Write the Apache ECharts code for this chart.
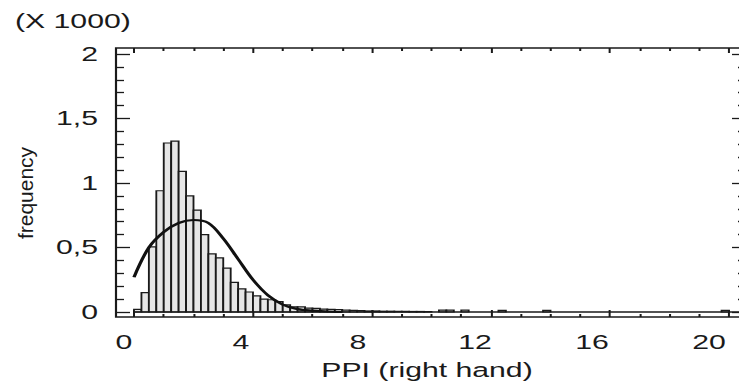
<!DOCTYPE html>
<html>
<head>
<meta charset="utf-8">
<script src="https://cdn.jsdelivr.net/npm/echarts@6/dist/echarts.min.js"></script>
<style>
  html, body { margin: 0; padding: 0; background: #fff; overflow: hidden; }
  #wrap { width: 739px; height: 386px; overflow: hidden; position: relative; }
  #chart { width: 477px; height: 386px; transform-origin: 0 0; position: absolute; left: 0; top: 0; }
</style>
</head>
<body>
<div id="wrap"><div id="chart"></div></div>
<script>
// ---------------- data ----------------
// histogram bins: left edge of each bin (PPI), bin width, frequency (x 1000)
const binWidth = 0.25;
const binLeft = [0, 0.25, 0.5, 0.75, 1, 1.25, 1.5, 1.75, 2, 2.25, 2.5, 2.75, 3, 3.25, 3.5, 3.75,
  4, 4.25, 4.5, 4.75, 5, 5.25, 5.5, 5.75, 6, 6.25, 6.5, 6.75, 7, 7.25, 7.5, 7.75,
  8, 8.25, 8.5, 8.75, 9, 9.25, 9.5, 9.75, 10.25, 10.5, 11, 12.25, 13.75, 19.75];
const binFreq = [0.02, 0.15, 0.505, 0.94, 1.31, 1.325, 1.09, 0.90, 0.79, 0.60, 0.45, 0.42, 0.34, 0.23, 0.18, 0.155,
  0.125, 0.10, 0.095, 0.08, 0.055, 0.04, 0.04, 0.03, 0.028, 0.022, 0.02, 0.018, 0.015, 0.012, 0.01, 0.008,
  0.008, 0.006, 0.006, 0.005, 0.005, 0.004, 0.004, 0.003, 0.014, 0.014, 0.014, 0.012, 0.012, 0.012];
// fitted curve
const curveX = [0, 0.5, 1.0, 1.5, 2.0, 2.5, 3.0, 3.5, 4.0, 4.5, 5.0, 5.5, 6.0, 6.5, 7.0];
const curveY = [0.27, 0.50, 0.62, 0.69, 0.713, 0.69, 0.57, 0.41, 0.25, 0.13, 0.058, 0.022, 0.01, 0.004, 0.0];
// axes
const xTicks = [0, 4, 8, 12, 16, 20];
const yTickLabels = ['0', '0,5', '1', '1,5', '2'];
const xTitle = 'PPI (right hand)';
const yTitle = 'frequency';
const yScaleNote = '(X 1000)';

// ---------------- layout ----------------
const W = 477, H = 386;
const S = 739 / W;            // horizontal stretch of the original figure
const u = px => px / S;
const el = document.getElementById('chart');
el.style.transform = 'scaleX(' + S + ')';
const chart = echarts.init(el, null, { renderer: 'svg', width: W, height: H });

const FONT = 'Liberation Sans, Arial, Helvetica, sans-serif';
const INK = '#1a1a1a';
const F = { l: 116, r: 746, t: 48, b: 317 };   // outer frame (reference px)
const D = { l: 134, r: 729, t: 54, b: 312 };   // x 0..20, y 0..2
const pxPerX = (D.r - D.l) / 20, pxPerY = (D.b - D.t) / 2;
const fxMin = (F.l - D.l) / pxPerX, fxMax = (F.r - D.l) / pxPerX;
const fyMin = (D.b - F.b) / pxPerY, fyMax = (D.b - F.t) / pxPerY;

const bars = binLeft.map((x, i) => [x, x + binWidth, binFreq[i]]);
const curve = curveX.map((x, i) => [x, curveY[i]]);

const tickStyle = { color: INK, width: 1.3 };
const noLine = { show: false, onZero: false };

chart.setOption({
  animation: false,
  backgroundColor: '#fff',
  grid: [
    { left: u(F.l), right: W - u(F.r), top: F.t, bottom: H - F.b, show: true,
      borderColor: INK, borderWidth: 1.4, backgroundColor: 'transparent', containLabel: false, outerBoundsMode: 'none' },
    { left: u(D.l), right: W - u(D.r), top: D.t, bottom: H - D.b, containLabel: false, outerBoundsMode: 'none' },
    { left: u(124), right: W - u(709), top: D.t, bottom: H - F.b, containLabel: false, outerBoundsMode: 'none' }
  ],
  xAxis: [
    { gridIndex: 0, type: 'value', min: fxMin, max: fxMax, show: false, axisLine: noLine },
    { gridIndex: 1, type: 'value', min: 0, max: 20, interval: 4, position: 'bottom', offset: F.b - D.b,
      axisLine: noLine, splitLine: { show: false }, axisLabel: { show: false },
      axisTick: { inside: true, length: 7, lineStyle: tickStyle },
      minorTick: { show: true, splitNumber: 4, length: 3, lineStyle: tickStyle } },
    { gridIndex: 1, type: 'value', min: 0, max: 20, interval: 4, position: 'top', offset: D.t - F.t,
      axisLine: noLine, splitLine: { show: false }, axisLabel: { show: false },
      axisTick: { inside: true, length: 5, lineStyle: tickStyle },
      minorTick: { show: true, splitNumber: 4, length: 3, lineStyle: tickStyle } },
    { gridIndex: 2, type: 'value', min: 0, max: 20, interval: 4, position: 'bottom',
      axisLine: noLine, axisTick: { show: false }, splitLine: { show: false },
      axisLabel: { show: true, margin: 15, color: INK, fontFamily: FONT, fontSize: 19.5, customValues: xTicks } }
  ],
  yAxis: [
    { gridIndex: 0, type: 'value', min: fyMin, max: fyMax, show: false, axisLine: noLine },
    { gridIndex: 1, type: 'value', min: 0, max: 2, interval: 0.5, position: 'left', offset: u(D.l - F.l),
      axisLine: noLine, splitLine: { show: false },
      axisTick: { inside: true, length: u(14), lineStyle: tickStyle },
      minorTick: { show: true, splitNumber: 5, length: u(8), lineStyle: tickStyle },
      axisLabel: { show: true, margin: u(18), color: INK, fontFamily: FONT, fontSize: 19.5,
        formatter: (v) => yTickLabels[Math.round(v * 2)] } },
    { gridIndex: 1, type: 'value', min: 0, max: 2, interval: 0.5, position: 'right', offset: u(F.r - D.r),
      axisLine: noLine, splitLine: { show: false }, axisLabel: { show: false },
      axisTick: { inside: true, length: u(14), lineStyle: tickStyle },
      minorTick: { show: true, splitNumber: 5, length: u(8), lineStyle: tickStyle } },
    { gridIndex: 2, type: 'value', min: 0, max: 2, show: false, axisLine: noLine }
  ],
  series: [
    {
      type: 'custom', xAxisIndex: 1, yAxisIndex: 1, data: bars, z: 2,
      renderItem: (params, api) => {
        const p0 = api.coord([api.value(0), api.value(2)]);
        const p1 = api.coord([api.value(1), 0]);
        return { type: 'rect', shape: { x: p0[0], y: p0[1], width: p1[0] - p0[0], height: p1[1] - p0[1] },
          style: { fill: '#e6e6e6', stroke: INK, lineWidth: 1.2 } };
      }
    },
    {
      type: 'line', xAxisIndex: 0, yAxisIndex: 0, data: [[0, 0], [fxMax, 0]], symbol: 'none', z: 3,
      lineStyle: { color: INK, width: 1.4 }, silent: true
    },
    {
      type: 'line', xAxisIndex: 1, yAxisIndex: 1, data: curve, smooth: 0.35, symbol: 'none', z: 4,
      lineStyle: { color: '#111', width: 2.2 }
    }
  ],
  graphic: [
    { type: 'text', x: u(15), y: 21, style: { text: yScaleNote, fill: INK, font: '19.5px ' + FONT, align: 'left', verticalAlign: 'middle' } },
    { type: 'text', x: u(26), y: 193, rotation: Math.PI / 2, scaleY: 1 / S,
      style: { text: yTitle, fill: INK, font: '21px ' + FONT, align: 'center', verticalAlign: 'middle' } },
    { type: 'text', x: u(427), y: 370, style: { text: xTitle, fill: INK, font: '19.5px ' + FONT, align: 'center', verticalAlign: 'middle' } }
  ]
});
</script>
</body>
</html>
